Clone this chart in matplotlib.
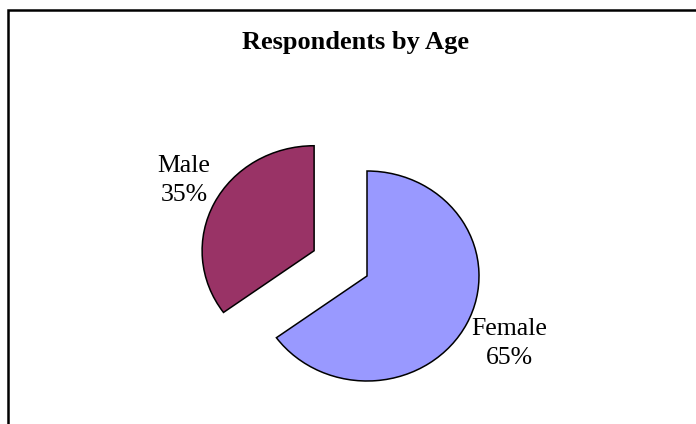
import matplotlib
matplotlib.use("Agg")
import matplotlib.pyplot as plt
from matplotlib.patches import Rectangle

categories = ["Female", "Male"]
percentages = [65, 35]
colors = ["#9999FF", "#993366"]
title = "Respondents by Age"

W, H = 696, 424
fig = plt.figure(figsize=(W / 100, H / 100), dpi=100)

# pie geometry in pixels
cx, cy = 367, 276
rx, ry = 112, 105
xlim = (-3.0, 2.8)
ylim = (-1.4, 2.5)
left = cx + xlim[0] * rx
right = cx + xlim[1] * rx
top = cy - ylim[1] * ry
bottom = cy - ylim[0] * ry
ax = fig.add_axes([left / W, (H - bottom) / H, (right - left) / W, (bottom - top) / H])

explode = [0.0, 0.53]
wedges, _ = ax.pie(percentages, colors=colors, startangle=90, counterclock=False,
                   explode=explode, radius=1.0,
                   wedgeprops=dict(edgecolor="black", linewidth=1.1))
ax.set_xlim(*xlim)
ax.set_ylim(*ylim)
ax.set_aspect("auto")
ax.axis("off")

serif = ["Liberation Serif", "DejaVu Serif"]
label_pos = {"Female": (1.268, -0.64), "Male": (-1.634, 0.91)}
for cat, pct in zip(categories, percentages):
    x, y = label_pos[cat]
    ax.text(x, y, f"{cat}\n{pct}%", ha="center", va="center", multialignment="center",
            fontsize=18.5, family=serif, linespacing=1.4)

fig.text(355 / W, 1 - 43 / H, title, ha="center", va="center", fontsize=19,
         fontweight="bold", family=serif)

fig.patches.append(Rectangle((7.5 / W, -0.1), 1.0, (H - 9.5) / H + 0.1,
                             transform=fig.transFigure, fill=False,
                             edgecolor="black", linewidth=1.8))

fig.savefig("out.png", dpi=100, facecolor="white")
